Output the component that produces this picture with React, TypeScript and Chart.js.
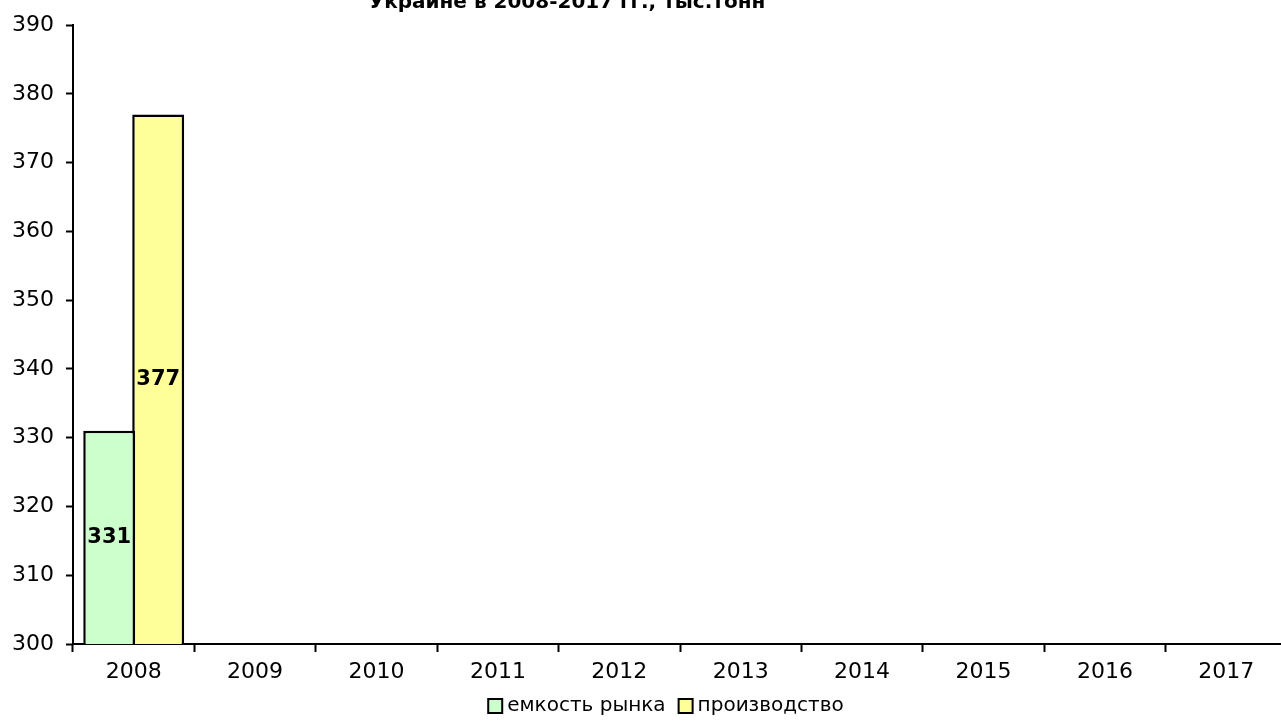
import React, { useEffect, useRef } from "react";
import { Chart, registerables } from "chart.js";

Chart.register(...registerables);

const categories = ["2008", "2009", "2010", "2011", "2012", "2013", "2014", "2015", "2016", "2017"];
const marketCapacity: (number | null)[] = [331, null, null, null, null, null, null, null, null, null];
const production: (number | null)[] = [377, null, null, null, null, null, null, null, null, null];
const seriesNames = ["емкость рынка", "производство"];
const seriesColors = ["#CCFFCC", "#FFFF99"];
const titleText = "Украине в 2008-2017 гг., тыс.тонн";

const FONT = "'DejaVu Sans', Verdana, sans-serif";

const titlePlugin = {
  id: "cutTitle",
  afterDraw(chart: any) {
    const ctx = chart.ctx;
    ctx.save();
    ctx.font = `bold 20px ${FONT}`;
    ctx.fillStyle = "#000";
    ctx.textAlign = "center";
    ctx.textBaseline = "alphabetic";
    ctx.fillText(titleText, 567, 8);
    ctx.restore();
  },
};

const legendPlugin = {
  id: "customLegend",
  afterDraw(chart: any) {
    const ctx = chart.ctx;
    ctx.save();
    ctx.font = `20px ${FONT}`;
    const box = 14;
    const gap = 5;
    const spacing = 13;
    const items = chart.data.datasets.map((ds: any) => ({
      label: ds.label,
      color: ds.backgroundColor,
      w: box + gap + ctx.measureText(ds.label).width,
    }));
    const total = items.reduce((a: number, it: any) => a + it.w, 0) + spacing * (items.length - 1);
    let x = 666 - total / 2;
    const cy = 706;
    items.forEach((it: any) => {
      ctx.fillStyle = it.color;
      ctx.fillRect(x, cy - box / 2, box, box);
      ctx.strokeStyle = "#000";
      ctx.lineWidth = 2;
      ctx.strokeRect(x, cy - box / 2, box, box);
      ctx.fillStyle = "#000";
      ctx.textAlign = "left";
      ctx.textBaseline = "middle";
      ctx.fillText(it.label, x + box + gap, cy);
      x += it.w + spacing;
    });
    ctx.restore();
  },
};

const labelPlugin = {
  id: "barLabels",
  afterDatasetsDraw(chart: any) {
    const ctx = chart.ctx;
    const yScale = chart.scales.y;
    ctx.save();
    ctx.font = `bold 21px ${FONT}`;
    ctx.fillStyle = "#000";
    ctx.textAlign = "center";
    ctx.textBaseline = "middle";
    chart.data.datasets.forEach((ds: any, di: number) => {
      const meta = chart.getDatasetMeta(di);
      meta.data.forEach((bar: any, i: number) => {
        const v = ds.data[i];
        if (v == null) return;
        const top = yScale.getPixelForValue(v);
        const bottom = yScale.getPixelForValue(yScale.min);
        ctx.fillText(String(v), bar.x, (top + bottom) / 2);
      });
    });
    ctx.restore();
  },
};

export default function App() {
  const ref = useRef<HTMLCanvasElement>(null);
  useEffect(() => {
    if (!ref.current) return;
    const chart = new Chart(ref.current, {
      type: "bar",
      data: {
        labels: categories,
        datasets: [
          {
            label: seriesNames[0],
            data: marketCapacity,
            backgroundColor: seriesColors[0],
            borderColor: "#000000",
            borderWidth: 2.5,
          },
          {
            label: seriesNames[1],
            data: production,
            backgroundColor: seriesColors[1],
            borderColor: "#000000",
            borderWidth: 2.5,
          },
        ],
      },
      options: {
        responsive: false,
        animation: false,
        maintainAspectRatio: false,
        layout: { padding: { left: 0, right: 13, top: 23, bottom: 40 } },
        datasets: { bar: { barPercentage: 1.06, categoryPercentage: 0.807 } },
        plugins: {
          title: { display: false },
          tooltip: { enabled: false },
          legend: { display: false },
        },
        scales: {
          x: {
            afterFit: (s: any) => { s.height = 40; },
            grid: {
              display: true,
              drawOnChartArea: false,
              drawTicks: true,
              tickLength: 8,
              tickWidth: 2,
              tickColor: "#000",
              offset: true,
            },
            border: { display: true, color: "#000", width: 2 },
            ticks: { color: "#000", font: { family: FONT, size: 22 }, padding: 7, maxRotation: 0 },
          },
          y: {
            min: 300,
            max: 390,
            afterFit: (s: any) => { s.width = 73; },
            grid: {
              display: true,
              drawOnChartArea: false,
              drawTicks: true,
              tickLength: 7,
              tickWidth: 2,
              tickColor: "#000",
            },
            border: { display: true, color: "#000", width: 2 },
            ticks: { stepSize: 10, color: "#000", font: { family: FONT, size: 22 }, padding: 12 },
          },
        },
      },
      plugins: [titlePlugin, labelPlugin, legendPlugin],
    });
    return () => chart.destroy();
  }, []);
  return (
    <div style={{ position: "fixed", left: 0, top: 0, width: 1281, height: 724, overflow: "hidden", background: "#fff" }}>
      <canvas ref={ref} width={1300} height={724} style={{ display: "block" }} />
    </div>
  );
}
